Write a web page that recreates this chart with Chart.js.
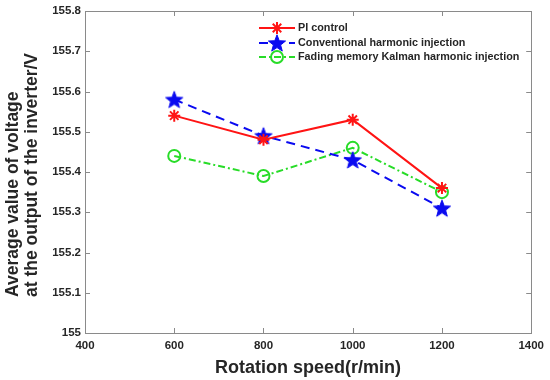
<!DOCTYPE html>
<html><head><meta charset="utf-8">
<script src="https://cdn.jsdelivr.net/npm/chart.js@4.4.1/dist/chart.umd.min.js"></script>
<style>html,body{margin:0;padding:0;background:#fff}</style></head>
<body>
<canvas id="c" width="550" height="380"></canvas>
<script>
const speeds = [600, 800, 1000, 1200];
const piControl = [155.54, 155.48, 155.53, 155.36];
const conventional = [155.58, 155.49, 155.43, 155.31];
const fadingKalman = [155.44, 155.39, 155.46, 155.35];
const xTicks = [400, 600, 800, 1000, 1200, 1400];
const yTicks = [155, 155.1, 155.2, 155.3, 155.4, 155.5, 155.6, 155.7, 155.8];
const seriesNames = ['PI control', 'Conventional harmonic injection', 'Fading memory Kalman harmonic injection'];
const xTitle = 'Rotation speed(r/min)';
const yTitle = ['Average value of voltage', 'at the output of the inverter/V'];

const RED = 'rgb(255,20,20)', BLUE = 'rgb(10,10,240)', GREEN = 'rgb(40,220,40)';
const FONT = "'Liberation Sans', Arial, sans-serif";
const TEXT = '#262626';

function starCanvas(r, color) {
  const s = Math.ceil(r * 2 + 4);
  const c = document.createElement('canvas');
  c.width = s; c.height = s;
  const g = c.getContext('2d');
  g.translate(s / 2, s / 2 + 0.8);
  g.beginPath();
  for (let i = 0; i < 10; i++) {
    const rr = i % 2 ? r * 0.42 : r;
    const a = -Math.PI / 2 + i * Math.PI / 5;
    g.lineTo(rr * Math.cos(a), rr * Math.sin(a));
  }
  g.closePath();
  g.fillStyle = color; g.fill();
  g.lineWidth = 1; g.strokeStyle = color; g.stroke();
  return c;
}
const blueStar = starCanvas(9, BLUE);

Chart.defaults.font.family = FONT;

const toXY = (xs, ys) => xs.map((x, i) => ({x, y: ys[i]}));

const boxPlugin = {
  id: 'box',
  beforeDatasetsDraw(chart) {
    const {ctx, chartArea: a, scales: {x, y}} = chart;
    ctx.save();
    ctx.strokeStyle = '#8a8a8a';
    ctx.lineWidth = 1;
    ctx.strokeRect(Math.round(a.left) + 0.5, Math.round(a.top) + 0.5, Math.round(a.right - a.left), Math.round(a.bottom - a.top));
    ctx.beginPath();
    const L = 5;
    xTicks.forEach(v => {
      const px = Math.round(x.getPixelForValue(v)) + 0.5;
      ctx.moveTo(px, a.bottom); ctx.lineTo(px, a.bottom - L);
      ctx.moveTo(px, a.top); ctx.lineTo(px, a.top + L);
    });
    yTicks.forEach(v => {
      const py = Math.round(y.getPixelForValue(v)) + 0.5;
      ctx.moveTo(a.left, py); ctx.lineTo(a.left + L, py);
      ctx.moveTo(a.right, py); ctx.lineTo(a.right - L, py);
    });
    ctx.stroke();
    ctx.restore();
  },
  afterDraw(chart) {
    const ctx = chart.ctx;
    ctx.save();
    // y-axis title, two lines starting at the same point
    ctx.fillStyle = TEXT;
    ctx.font = "bold 17.5px " + FONT;
    ctx.textAlign = 'left'; ctx.textBaseline = 'alphabetic';
    const baseX = [17.5, 36.5];
    yTitle.forEach((t, i) => {
      ctx.save();
      ctx.translate(baseX[i], 297);
      ctx.rotate(-Math.PI / 2);
      ctx.fillText(t, 0, 0);
      ctx.restore();
    });
    // legend
    const rows = [28, 43, 57];
    const x0 = 259, x1 = 295, xm = 277, tx = 298;
    const styles = [
      {color: RED, dash: []},
      {color: BLUE, dash: [9, 6]},
      {color: GREEN, dash: [7, 3, 2, 3]}
    ];
    rows.forEach((ry, i) => {
      const s = styles[i];
      ctx.strokeStyle = s.color; ctx.lineWidth = 2; ctx.setLineDash(s.dash);
      ctx.beginPath(); ctx.moveTo(x0, ry); ctx.lineTo(x1, ry); ctx.stroke();
      ctx.setLineDash([]);
      if (i === 0) {
        ctx.beginPath();
        const r = 6;
        for (let k = 0; k < 4; k++) {
          const ang = k * Math.PI / 4;
          ctx.moveTo(xm - r * Math.cos(ang), ry - r * Math.sin(ang));
          ctx.lineTo(xm + r * Math.cos(ang), ry + r * Math.sin(ang));
        }
        ctx.stroke();
      } else if (i === 1) {
        ctx.drawImage(blueStar, xm - blueStar.width / 2, ry - blueStar.height / 2);
      } else {
        ctx.beginPath(); ctx.arc(xm, ry, 6, 0, Math.PI * 2); ctx.stroke();
      }
      ctx.fillStyle = TEXT;
      ctx.font = "bold 10.8px " + FONT;
      ctx.textBaseline = 'middle'; ctx.textAlign = 'left';
      ctx.fillText(seriesNames[i], tx, ry + 0.5);
    });
    ctx.restore();
  }
};

new Chart(document.getElementById('c'), {
  type: 'line',
  data: {
    datasets: [
      {label: seriesNames[0], data: toXY(speeds, piControl), borderColor: RED, backgroundColor: RED,
       borderWidth: 2, pointStyle: 'star', pointRadius: 6, pointBorderWidth: 2, pointBorderColor: RED, tension: 0},
      {label: seriesNames[1], data: toXY(speeds, conventional), borderColor: BLUE, backgroundColor: BLUE,
       borderWidth: 2, borderDash: [9, 6], pointStyle: blueStar, pointRadius: 9, tension: 0},
      {label: seriesNames[2], data: toXY(speeds, fadingKalman), borderColor: GREEN, backgroundColor: 'rgba(0,0,0,0)',
       borderWidth: 2, borderDash: [7, 3, 2, 3], pointStyle: 'circle', pointRadius: 6, pointBorderWidth: 2,
       pointBorderColor: GREEN, pointBackgroundColor: 'rgba(0,0,0,0)', tension: 0}
    ]
  },
  options: {
    responsive: false,
    animation: false,
    layout: {padding: {top: 10, right: 18, left: 0, bottom: 0}},
    plugins: {legend: {display: false}, tooltip: {enabled: false}},
    scales: {
      x: {
        type: 'linear', min: 400, max: 1400,
        afterBuildTicks: s => { s.ticks = xTicks.map(v => ({value: v})); },
        afterFit: s => { s.height = 47; },
        grid: {display: false, drawTicks: false}, border: {display: false},
        ticks: {padding: 6, color: TEXT, font: {size: 11.5, weight: 'bold'}, maxRotation: 0, callback: v => String(v)},
        title: {display: true, text: xTitle, color: TEXT, font: {size: 18, weight: 'bold'}, padding: {top: 2, bottom: 1}}
      },
      y: {
        type: 'linear', min: 155, max: 155.8,
        afterBuildTicks: s => { s.ticks = yTicks.map(v => ({value: v})); },
        afterFit: s => { s.width = 85; },
        grid: {display: false, drawTicks: false}, border: {display: false},
        ticks: {padding: 4, color: TEXT, font: {size: 11.5, weight: 'bold'}, callback: v => String(+(+v).toFixed(1))},
        title: {display: false}
      }
    }
  },
  plugins: [boxPlugin]
});
</script>
</body></html>
